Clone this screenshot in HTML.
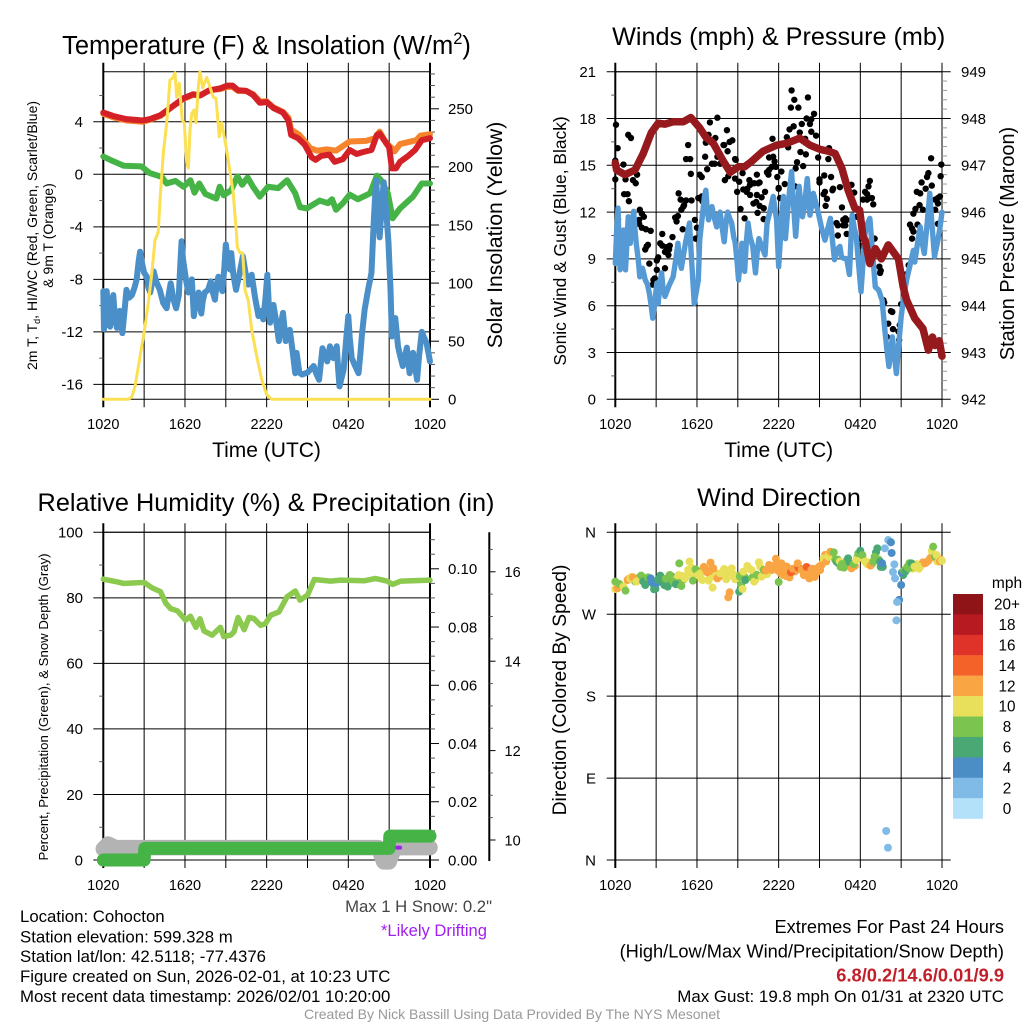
<!DOCTYPE html>
<html lang="en">
<head>
<meta charset="utf-8">
<title>Cohocton Mesonet Meteogram</title>
<style>
html,body{margin:0;padding:0;background:#fff;width:1024px;height:1024px;overflow:hidden}
svg{display:block;font-family:"Liberation Sans",Arial,sans-serif}
text{fill:#000}
</style>
</head>
<body>
<svg id="fig" xmlns="http://www.w3.org/2000/svg" width="1024" height="1024" viewBox="0 0 1024 1024">
<rect width="1024" height="1024" fill="#fff"/>
<g id="layer-grid"></g>
<g id="layer-marks"></g>
<g id="layer-labels"></g>

<text x="266.5" y="54" font-size="25.5" text-anchor="middle">Temperature (F) &amp; Insolation (W/m<tspan dy="-10" font-size="16.5">2</tspan><tspan dy="10">)</tspan></text>
<text x="778.7" y="45" font-size="25.2" text-anchor="middle">Winds (mph) &amp; Pressure (mb)</text>
<text x="266" y="511" font-size="25.3" text-anchor="middle">Relative Humidity (%) &amp; Precipitation (in)</text>
<text x="779" y="506" font-size="25.2" text-anchor="middle">Wind Direction</text>

<text x="266.5" y="457" font-size="21" text-anchor="middle">Time (UTC)</text>
<text x="778.7" y="457" font-size="21" text-anchor="middle">Time (UTC)</text>

<text transform="translate(37 235.5) rotate(-90)" font-size="14" text-anchor="middle">2m T, T<tspan dy="3" font-size="9">d</tspan><tspan dy="-3">, HI/WC (Red, Green, Scarlet/Blue)</tspan></text>
<text transform="translate(53 235.5) rotate(-90)" font-size="14" text-anchor="middle">&amp; 9m T (Orange)</text>
<text transform="translate(502 235) rotate(-90)" font-size="21.2" text-anchor="middle">Solar Insolation (Yellow)</text>
<text transform="translate(566 241) rotate(-90)" font-size="17.4" text-anchor="middle">Sonic Wind &amp; Gust (Blue, Black)</text>
<text transform="translate(1014 243.5) rotate(-90)" font-size="19.9" text-anchor="middle">Station Pressure (Maroon)</text>
<text transform="translate(48 707) rotate(-90)" font-size="13.2" text-anchor="middle">Percent, Precipitation (Green), &amp; Snow Depth (Gray)</text>
<text transform="translate(566 690) rotate(-90)" font-size="19.3" text-anchor="middle">Direction (Colored By Speed)</text>

<text x="1007" y="588" font-size="15.5" text-anchor="middle">mph</text>

<text x="492" y="912" font-size="16.7" text-anchor="end" style="fill:#444">Max 1 H Snow: 0.2"</text>
<text x="487" y="936" font-size="16.6" text-anchor="end" style="fill:#a020f0">*Likely Drifting</text>

<text x="20" y="922" font-size="16.8">Location: Cohocton</text>
<text x="20" y="942.5" font-size="16.8">Station elevation: 599.328 m</text>
<text x="20" y="962" font-size="16.8">Station lat/lon: 42.5118; -77.4376</text>
<text x="20" y="982" font-size="16.8">Figure created on Sun, 2026-02-01, at 10:23 UTC</text>
<text x="20" y="1002" font-size="16.8">Most recent data timestamp: 2026/02/01 10:20:00</text>

<text x="1004" y="933" font-size="18.2" text-anchor="end">Extremes For Past 24 Hours</text>
<text x="1004" y="957.5" font-size="18.25" text-anchor="end">(High/Low/Max Wind/Precipitation/Snow Depth)</text>
<text x="1004" y="981.5" font-size="18.3" font-weight="bold" text-anchor="end" style="fill:#c1202a">6.8/0.2/14.6/0.01/9.9</text>
<text x="1004" y="1002" font-size="16.9" text-anchor="end">Max Gust: 19.8 mph On 01/31 at 2320 UTC</text>

<text x="512" y="1019" font-size="14" text-anchor="middle" style="fill:#999">Created By Nick Bassill Using Data Provided By The NYS Mesonet</text>
</svg>

<script>
// ---------- data ----------
const timeTickHours = [0,3,6,9,12,15,18,21,24];
const timeTickLabels = ["1020","","1620","","2220","","0420","","1020"];

const tempTicks = [4,0,-4,-8,-12,-16];
const tempMinorTicks = [6,2,-2,-6,-10,-14];
const solarTicks = [0,50,100,150,200,250];
const solarMinorTicks = [10,20,30,40,60,70,80,90,110,120,130,140,160,170,180,190,210,220,230,240,260,270,280];
const windTicks = [0,3,6,9,12,15,18,21];
const windMinorTicks = [1.5,4.5,7.5,10.5,13.5,16.5,19.5];
const pressureTicks = [942,943,944,945,946,947,948,949];
const pressureMinorTicks = [942.2,942.4,942.6,942.8,943.2,943.4,943.6,943.8,944.2,944.4,944.6,944.8,945.2,945.4,945.6,945.8,946.2,946.4,946.6,946.8,947.2,947.4,947.6,947.8,948.2,948.4,948.6,948.8];
const humidityTicks = [0,20,40,60,80,100];
const humidityMinorTicks = [10,30,50,70,90];
const precipTicks = ["0.00","0.02","0.04","0.06","0.08","0.10"];
const precipMinorTicks = [0.005,0.01,0.015,0.025,0.03,0.035,0.045,0.05,0.055,0.065,0.07,0.075,0.085,0.09,0.095,0.105,0.11];
const snowTicks = [10,12,14,16];
const snowMinorTicks = [10.5,11,11.5,12.5,13,13.5,14.5,15,15.5,16.5];
const directionTicks = [0,90,180,270,360];
const directionLabels = ["N","E","S","W","N"];
const speedLegendLabels = ["20+","18","16","14","12","10","8","6","4","2","0"];
const speedLegendColors = ["#8f1417","#b81a22","#df3329","#f4622a","#f9a543","#e8e05a","#7bc44f","#49a873","#4b8ec6","#7fbbe6","#b3e1f9"];

const solarHours = [0,1.84,2.09,2.33,2.70,2.99,3.31,3.56,3.80,4.04,4.17,4.41,4.66,4.90,5.07,5.27,5.39,5.58,5.80,5.95,6.13,6.25,6.37,6.50,6.66,6.81,6.98,7.10,7.30,7.60,8.08,8.28,8.52,8.70,9.07,9.55,9.80,9.84,10.04,10.24,10.41,10.65,10.90,11.27,11.64,12.0,12.37,24];
const solarValues = [0,0,2,11,37,57,83,108,137,144,172,212,238,275,276,281,260,272,240,238,203,199,232,246,249,238,269,282,268,277,260,259,226,238,214,177,140,131,126,126,94,85,60,37,17,4,0,0];

const tempHours = [0,.73,1.7,2.9,3.4,4.2,5.0,5.9,6.6,7.1,7.8,8.6,9.1,9.5,9.9,10.5,11.0,11.5,12.0,12.5,13.2,13.6,13.8,14.3,14.8,15.3,15.6,16.0,16.6,17.0,17.6,18.1,18.6,19.1,19.7,20.1,20.3,20.7,21.0,21.2,21.5,21.8,22.4,22.9,23.4,24];
const tempValues = [4.7,4.44,4.2,4.1,4.2,4.5,5.1,5.8,6.1,6.0,6.4,6.55,6.75,6.75,6.4,6.35,6.05,5.45,5.5,5.05,4.7,4.1,3.0,2.75,2.25,1.3,1.1,1.4,1.5,.95,1.15,1.85,1.55,1.7,1.85,3.0,3.1,2.5,2.05,.45,.45,.95,1.4,1.85,2.6,2.75];

const temp9mHours = [0,.73,1.7,2.9,3.4,4.2,5.0,5.9,6.6,7.1,7.8,8.6,9.1,9.5,9.9,10.5,11.0,11.5,12.0,12.5,13.2,13.6,13.8,14.4,15.2,15.7,16.4,17.1,18.1,19.3,19.95,20.3,20.8,21.2,21.4,21.8,23.0,23.3,24];
const temp9mValues = [4.6,4.34,4.1,4.0,4.15,4.45,5.1,5.75,6.05,6.0,6.4,6.5,6.65,6.65,6.35,6.35,6.1,5.55,5.55,5.1,4.75,4.3,3.4,3.0,2.0,1.8,1.9,1.8,2.5,2.55,2.75,3.25,2.35,2.0,1.75,2.3,2.6,2.95,3.05];

const dewHours = [0,.5,1.5,2.8,3.4,4.3,4.65,5.3,5.9,6.4,6.7,7.05,7.5,8.3,8.55,8.85,9.4,9.85,10.2,10.6,11.0,11.5,12.1,12.85,13.5,14.1,14.45,14.95,15.9,16.5,16.8,17.1,17.6,18.1,18.7,19.6,20.1,20.4,20.9,21.25,21.8,22.75,23.4,24];
const dewValues = [1.35,1.1,.65,.6,.1,-.2,-.7,-.5,-.95,-.45,-1.4,-.7,-1.5,-1.85,-.95,-1.6,-1.2,-.15,-.8,-.25,-.95,-1.7,-.95,-1.05,-.45,-1.45,-2.5,-2.6,-2.0,-2.2,-1.9,-2.7,-2.2,-1.55,-1.9,-1.45,-.1,-.45,-1.45,-3.35,-2.6,-1.7,-.7,-.7];

const chillHours = [0,.05,.12,.18,.25,.35,.42,.5,.6,.73,.85,1,1.1,1.2,1.3,1.4,1.55,1.7,1.9,2.1,2.3,2.45,2.6,2.7,2.85,3,3.2,3.3,3.45,3.6,3.7,3.9,4.15,4.4,4.65,4.8,4.95,5.15,5.35,5.55,5.65,5.75,5.85,6,6.1,6.25,6.4,6.5,6.58,6.65,6.8,7,7.1,7.2,7.3,7.45,7.7,7.9,8.05,8.2,8.3,8.45,8.6,8.75,8.9,9,9.15,9.3,9.4,9.55,9.75,10,10.25,10.45,10.65,10.9,11.15,11.4,11.6,11.75,11.9,12.05,12.15,12.25,12.5,12.7,12.9,13.05,13.2,13.3,13.4,13.7,13.9,14.1,14.2,14.4,14.6,15,15.45,15.65,15.85,16.1,16.3,16.45,16.65,16.9,17.15,17.25,17.35,17.65,17.85,18,18.1,18.25,18.5,18.75,18.9,19,19.2,19.45,19.7,19.85,19.95,20.05,20.15,20.3,20.45,20.6,20.8,20.95,21.1,21.2,21.45,21.65,21.8,22,22.3,22.5,22.75,23.05,23.2,23.4,23.55,23.75,24];
const chillValues = [-8.9,-11.8,-10,-11.5,-8.9,-10.8,-9.6,-11.6,-10.2,-9.2,-10.8,-11.7,-10.9,-10.4,-11.2,-12.1,-10.5,-8.8,-9.4,-9.2,-8.6,-8,-6.6,-5.9,-6.8,-7.5,-7.8,-8.6,-9,-8.2,-7.4,-8.2,-8.8,-9.8,-10.2,-9.2,-8.3,-9.5,-10.2,-9.2,-7,-5.1,-6.4,-7.5,-8.2,-9,-8.6,-8,-9.4,-10.8,-9.8,-9,-9.9,-10.6,-9.7,-9,-8.8,-8.15,-9,-9.55,-8.6,-7.8,-8.6,-8.9,-7,-5.35,-6.5,-7.25,-6,-7.6,-8.8,-7.6,-6.25,-7.5,-8.4,-7.65,-9.4,-10.8,-10.4,-11.05,-9.6,-7.65,-9.8,-11.3,-9.95,-11.2,-12.7,-11.4,-10.55,-11.6,-12.7,-11.85,-13.4,-15.15,-13.6,-15.1,-15.25,-15.1,-14.6,-15.2,-15.65,-13.25,-13.8,-14.25,-13.1,-14,-13.1,-14.8,-16.15,-14.9,-12.5,-10.8,-12.4,-14,-14.6,-15.15,-13.5,-12.2,-10.3,-8.8,-7.5,-4,-2,-.45,-2.5,-4.8,-2.5,-.6,-3,-5.2,-8.8,-12.35,-10.95,-13.1,-13.8,-14.6,-13.2,-15.15,-13.6,-15.65,-13.8,-12,-12.4,-12.85,-14.25];

const windHours = [0,.1,.2,.28,.35,.45,.6,.68,.75,.85,.95,1.02,1.1,1.22,1.35,1.45,1.55,1.68,1.8,2,2.2,2.35,2.5,2.62,2.75,2.9,3.05,3.15,3.28,3.4,3.52,3.65,3.95,4.25,4.45,4.6,4.72,4.85,5.15,5.45,5.6,5.8,5.95,6.1,6.2,6.4,6.55,6.65,6.75,6.85,7,7.1,7.28,7.45,7.58,7.7,7.85,8,8.12,8.25,8.4,8.55,8.7,8.8,8.95,9.05,9.18,9.3,9.4,9.5,9.62,9.75,9.9,10.1,10.2,10.3,10.42,10.55,10.75,11,11.08,11.15,11.4,11.6,11.85,12,12.18,12.35,12.5,12.7,12.95,13.1,13.25,13.38,13.5,13.62,13.75,13.9,14.1,14.2,14.3,14.42,14.55,14.7,14.9,15.15,15.4,15.6,15.8,15.95,16.1,16.3,16.5,16.62,16.75,17,17.2,17.3,17.4,17.55,17.7,17.88,18.05,18.2,18.35,18.5,18.7,18.9,19.1,19.35,19.6,19.7,19.8,19.95,20.1,20.22,20.35,20.5,20.65,20.82,21,21.2,21.4,21.65,21.9,22,22.2,22.4,22.55,22.7,22.9,23.1,23.28,23.45,23.7,23.85,24];
const windValues = [8.7,10.8,12.25,10,8.3,10,10.85,9.4,8.3,10,11.7,10.8,10,11.2,12.05,10.8,9.9,9,7.85,8.4,7.65,7.4,6.8,6.1,5.2,6.2,7.45,6.15,7.4,8.1,7,6.6,7.3,7.85,9,10,9,8.4,10,11.3,9,6.15,6.9,7.65,10.2,11.8,13,13.4,12.2,11.5,12.2,12.35,11.6,11.05,11.8,12,11,10.1,11.2,12,11.6,11.3,10.4,10.1,8.8,7.65,8.8,10,9,8.2,10,11.3,10.4,9.8,8.9,8.1,9.4,10.3,9.8,9.25,10.4,11.3,12.2,13,11.5,8.5,11,13,10.3,12.5,14.6,12.4,10.45,12,13.65,12.6,11.7,12.4,14.15,13,11.8,12.4,13.2,12.7,12,11,10.2,10.9,11.6,10.2,8.95,9.6,9.8,9.1,9.05,9,8,10,11.8,11,10.45,8.6,6.9,8.8,10.65,11.2,11.6,9.4,7.2,7,6.35,5.4,4.45,3.2,2.1,3,4,2.8,1.65,3.5,5.3,6.6,7.65,8.6,9.55,8.8,10,11.05,10,9.35,11.2,13.2,11,9.15,10.2,11,12];

const gustHours = [0,.05,.17,0,.6,.75,.95,1.15,.65,.9,1,1.3,1.6,1.5,1.8,1.95,2.1,1.75,1.75,1.95,2.25,2.6,.2,2.4,2.3,2.2,3.45,3.3,3.45,3.75,4.2,4,3.95,3.15,3.65,3.9,2.5,3.05,3.05,3.65,2.9,2.8,2.75,4.95,5.85,6,5.9,4.4,4.6,4.5,4.85,5,4.65,4.8,5.2,5.05,5.6,6.1,6.35,6.4,5.35,5.5,5.2,5.55,6.2,6.35,6.6,6.75,7.1,7.3,7.7,7.5,8,8.4,8.85,8.05,8.3,8.8,9.1,8.95,9.2,9.5,9.35,10.4,9.85,9.9,10.6,11.15,11.3,11.6,11.8,12,9.4,9.7,10.2,10.5,9.65,9.9,10.4,11,10.75,10.35,10.15,10.6,10.9,10.45,10.9,7.5,6.95,6.65,6.85,7.35,8.2,8.6,7.95,8.25,8.8,11.55,12.7,12.6,12.8,12.95,13.15,12.9,13.45,14.15,14.05,14.6,14.4,14.3,13.7,13.1,13.55,14.4,14.75,13.95,13.6,14,13.35,13.8,13.25,11.3,11.7,11.5,11.15,11.25,12.2,11.9,12.45,12,13.2,12.1,15.7,14.9,15.65,15,15.35,15.85,15,16.5,16,15.95,15.4,15.3,15.55,15.45,16.65,17.35,17.55,18.7,18.6,18.35,18.5,18.2,18.5,18.85,18.95,17.75,16.9,16.75,17,16.25,16.35,16.75,16.9,17,16.35,18,19.05,18,19.4,19.5,19.45,21.55,21.35,21,20.25,20.35,19.75,19.7,20.05,20.4,20.8,20.9,19.95,20,20.6,20.85,23.2,23,22.9,22.5,23.25,22.8,22.15,22.4,23.95,23.9,23.85,23.7,23.5,23.7,22.35,22.05,22.6,23.5,21.9,23.7,21.65,21.8,21.9,22.2,21.8];
const gustSpeeds = [15.3,17.6,16.1,14.1,15.05,14.1,16.95,16.75,13.15,13.15,12.7,14.05,14.4,13.85,12.15,11.9,11.7,11.5,11.25,11,10.9,10.8,11.55,9.9,9.8,9.6,10.6,10,9.85,9.75,10.4,9.85,9.6,9.1,9.45,9.25,8.7,8.9,8.3,8.4,7.75,7.65,7.35,10.9,11.5,11,10.3,11.65,11.75,11.4,12.15,12.35,13.2,12.8,12.75,12.45,12.75,12.9,13,12.7,16.3,15.4,15.4,14.45,14.4,14.25,15.55,14.75,15.1,15.1,15.1,15.55,16.3,16.5,15.35,14.05,14.3,14.15,13.95,13.3,12.2,11.6,14.5,14.4,14.05,13.75,13.9,14.55,14.7,15.55,14.9,13.5,13.45,13.5,13.85,13.85,13.3,13.1,13.1,13.3,12.95,12.65,12.55,12.4,12.25,11.95,11.55,18.05,17.75,16.45,16.95,16.75,17.25,16.6,16.3,15.9,15.4,16.7,16.15,16.8,17.3,19.8,19.2,18.7,18.7,19.35,18,18.3,17.95,17.65,17.65,17.5,17.1,17.15,16.9,16.7,15.85,15.7,15.2,14.95,14.8,15.5,15.25,14.9,14.55,14.4,14.6,14.25,13.8,13.55,13.65,12.9,16.1,15.5,15.4,14.1,14.35,14.25,13.9,13.6,13.5,13.4,13.3,13.15,12.85,12.4,12.3,13.75,13.25,14,13.65,13.3,13.15,12.8,12.8,12.9,12.5,11.7,11.6,11.5,11.5,11.3,11.15,11.15,11.15,10.6,10.5,10.3,10.3,9.85,8.5,8.25,8.1,8.6,8,6.1,5.65,5.6,6.2,6.35,4.85,4.5,4.35,4.75,4,3.35,2.95,3.8,15.45,14.5,14.25,13.9,13.7,13.5,13.3,13.2,15.05,14.3,13,12.9,12.8,12.55,12.45,12.2,12.15,12.15,11.9,11.25,11.2,10.95,10.75,11.2,10.3];

const pressureHours = [0,.1,.7,1.45,2.05,2.65,3.15,3.65,4.25,5,5.55,6.2,6.65,7.2,7.95,8.45,9.05,9.5,10,10.85,11.85,12.6,13.55,14.3,15.05,15.65,16.15,16.65,17.1,17.6,17.95,18.2,18.35,18.7,19.1,19.55,20.05,20.8,21.15,21.4,22,22.6,23,23.3,23.5,23.8,24];
const pressureValues = [947.05,946.9,946.8,946.9,947.25,947.7,947.9,947.88,947.93,947.93,948.02,947.8,947.6,947.47,947.08,946.85,946.97,946.97,947.08,947.3,947.43,947.47,947.58,947.43,947.34,947.3,947.25,946.93,946.47,946.08,946.04,945.47,945.4,944.9,945.22,945,945.3,945,944.4,944.12,943.73,943.51,943.05,943.33,943.15,943.25,942.92];

const humidityHours = [0,1,1.5,3,3.6,4.2,4.6,4.95,5.45,6.05,6.4,6.8,7.1,7.4,8,8.6,8.85,9.35,9.6,9.9,10.35,10.7,11.05,11.55,11.9,12.3,12.9,13.5,14.1,14.45,15,15.5,16.7,17.45,19.15,20,20.85,21.25,21.85,22.7,24];
const humidityValues = [85.7,84.9,84.4,84.7,83,81.9,78.3,76.7,76,73.2,74.4,71,73.6,69.9,68.6,71,68.2,68.6,69.6,74,70.3,74,73.7,71.6,72.1,74.7,75.7,80.3,82.1,79.3,80.8,85.6,85.1,85.4,85.2,85.9,85.1,84.1,85.1,85.2,85.4];

const snowHours = [0,.35,.9,20.2,20.6,21,21.4,24];
const snowValues = [9.8,9.91,9.83,9.83,9.51,9.51,9.83,9.83];
const driftHours = [21.6,21.8];
const driftValues = [9.83,9.83];

const precipHours = [0,3,3.05,21,21.05,24];
const precipValues = [0,0,0.004,0.004,0.0082,0.0082];

const directionHours = [0,0,.15,.3,.6,.75,.9,1.1,1.3,1.55,1.7,1.9,2.05,2.2,2.4,2.6,2.7,2.85,3,3.15,3.3,3.55,3.7,3.85,4,4.25,4.45,4.65,4.7,4.85,4.95,5.1,5.45,5.35,5.55,5.7,5.9,6.1,6.25,6.4,6.6,6.75,6.85,7,7.15,7.2,7.35,7.5,7.7,7.85,8,8.15,8.3,8.4,8.55,8.65,8.8,9.1,9.25,9.35,9.15,9.55,9.4,9.7,10,10.05,10.2,10.4,10.55,10.75,10.9,11.05,11.3,11.5,11.65,11.8,12,12.05,12.2,12.35,12.45,12.6,12.8,12.9,13.05,13.45,13.4,13.7,13.95,14.05,14.25,14.4,14.55,14.75,14.95,15.05,15.15,15.3,15.5,15.65,15.8,16.05,16.25,16.35,16.5,16.65,16.8,17.1,17.35,17.5,17.7,17.85,18,18.15,18.35,18.5,18.75,18.95,19.05,19.25,19.35,19.55,19.45,19.6,19.8,19.9,20.03,20.05,20.25,20.3,20.5,20.4,20.55,21,20.85,20.7,20.65,21.05,21.2,21.3,21.45,21.55,21.75,21.9,22,22.2,22.4,22.75,23,23.25,23.35,23.5,23.6,23.75,23.85,24];
const directionDegrees = [305.8,297.7,298.5,303.2,300.3,295.9,307.6,309,310.5,305.8,307,312.4,306,302.1,310.5,309.4,305,297.4,304,308,312.4,305.8,309,300.3,313.1,305.8,303,313.1,325.9,301,312,309.4,327.8,318.6,316,306.9,319.3,313.1,315,307.6,319.7,316,306.9,326.7,299.2,320.4,312,309.4,314.9,315,319.7,308.4,288.6,294.1,320.4,314,308.4,294.8,302,297.7,311.3,307.6,316.8,323,318.6,310,305.8,313.1,327,311.3,318.6,318,324.1,318.6,320,331,305.4,320.4,325.9,313.1,318,322.3,310.5,316,320,321.2,325.9,318.6,315,321.9,309.4,318.6,312,314.9,322,318.6,324.1,331.4,328,333.2,338.7,338,327.8,330,327.8,325,321.2,331.4,320.4,325,329.6,336.9,339.8,335,327.8,325,323.4,327.8,333.2,342.4,330,324.8,327.8,326,342.4,31.9,13.5,351.5,349,337.3,324.8,316.4,309.4,302.1,285.7,283.5,263.3,315.7,318,316.8,322,320.4,325.9,322,322.3,323,322.3,325.9,328.8,339.5,344.2,333.2,335,327.8,328,328.8];
const directionSpeeds = [9,11,13,9,11,9,13,11,13,11,11,9,7,7,9,5,5,7,5,7,7,7,9,7,9,9,7,11,9,9,11,11,11,11,11,9,9,11,11,11,13,13,11,13,11,13,11,13,11,11,11,11,13,13,11,11,11,7,9,11,9,7,11,11,11,9,11,9,11,11,9,13,13,13,13,13,9,13,13,13,13,13,13,15,13,15,13,13,13,15,13,13,13,13,13,13,13,11,13,11,13,9,7,9,11,9,9,7,13,9,11,9,7,9,11,11,13,9,9,7,9,7,7,5,3,3,3,3,5,5,3,3,3,5,5,3,3,5,9,7,9,9,7,9,11,11,11,13,13,11,9,9,11,11,13,11,13];

const directionHoursExtra = [.2,.45,1,1.2,1.45,1.8,2,2.3,2.5,2.8,2.95,3.1,3.25,3.4,3.6,3.75,3.95,4.1,4.35,4.55,4.75,5,5.2,5.6,5.8,6,6.3,6.5,6.95,7.1,7.25,7.6,7.95,8.25,8.45,8.95,9,9.5,9.85,10.15,10.3,10.65,10.85,11.15,11.4,11.75,11.95,12.15,12.3,12.55,12.7,13,13.2,13.6,13.85,14.15,14.3,14.5,14.65,14.85,15.25,15.4,15.7,15.95,16.15,16.4,16.55,16.95,17.2,17.6,17.8,17.95,18.25,18.6,18.85,19.15,19.4,19.5,19.65,21.15,21.4,21.6,21.85,22.1,22.3,22.6,22.85,23.15,23.45,23.65,23.9];
const directionDegreesExtra = [302,301,309,311,306,311,308,306,309,303,298,305,310,308,302,306,310,312,304,310,305,308,312,321,312,318,309,322,310,320,316,311,317,311,316,309,312,311,320,315,308,322,313,314,321,324,318,315,321,312,316,318,317,320,313,317,315,320,311,317,327,335,336,334,330,326,322,328,326,323,333,337,330,327,325,338,328,322,322,313,320,326,320,325,320,327,327,332,335,328,330];
const directionSpeedsExtra = [11,9,13,11,9,9,7,5,7,7,7,5,7,9,7,7,9,7,9,11,9,9,11,11,11,9,11,13,11,13,13,13,13,11,11,9,9,9,11,11,11,11,11,11,13,13,13,13,13,13,13,13,13,13,13,13,13,13,13,13,11,13,11,9,9,7,9,9,7,13,9,7,11,11,9,7,9,7,7,7,7,9,11,11,11,13,13,13,9,11,13];

// ---------- axis geometry ----------
const NS = "http://www.w3.org/2000/svg";
const gridLayer = document.getElementById("layer-grid");
const markLayer = document.getElementById("layer-marks");
const labelLayer = document.getElementById("layer-labels");
const leftX0 = 103.3, leftX1 = 430, rightX0 = 615.3, rightX1 = 942;
const upperTop = 71.7, upperBottom = 399.3, lowerTop = 532.3, lowerBottom = 860;

function xLeft(h){ return leftX0 + h * (leftX1 - leftX0) / 24; }
function xRight(h){ return rightX0 + h * (rightX1 - rightX0) / 24; }
function yTemp(v){ return 174.3 - v * 13.13; }
function ySolar(v){ return upperBottom - v * 1.162; }
function yWind(v){ return upperBottom - v * (upperBottom - upperTop) / 21; }
function yPressure(v){ return upperBottom - (v - 942) * (upperBottom - upperTop) / 7; }
function yHumidity(v){ return lowerBottom - v * (lowerBottom - lowerTop) / 100; }
function yPrecip(v){ return lowerBottom - v * 2912; }
function ySnow(v){ return 840 - (v - 10) * 44.7; }
function yDirection(v){ return lowerBottom - v * (lowerBottom - lowerTop) / 360; }

function line(x1,y1,x2,y2,w,color){
  const el = document.createElementNS(NS,"line");
  el.setAttribute("x1",x1); el.setAttribute("y1",y1);
  el.setAttribute("x2",x2); el.setAttribute("y2",y2);
  el.setAttribute("stroke",color||"#000");
  el.setAttribute("stroke-width",w||1);
  
  
  gridLayer.appendChild(el);
  return el;
}
function label(x,y,str,anchor,size){
  const el = document.createElementNS(NS,"text");
  el.setAttribute("x",x); el.setAttribute("y",y);
  el.setAttribute("text-anchor",anchor);
  el.setAttribute("font-size",size||15);
  el.textContent = str;
  
  
  labelLayer.appendChild(el);
  return el;
}
function series(xs,ys,xf,yf,color,width,name){
  const el = document.createElementNS(NS,"path");
  let d = "";
  for(let i=0;i<xs.length;i++){
    d += (i?"L":"M") + xf(xs[i]).toFixed(2) + " " + yf(ys[i]).toFixed(2);
  }
  el.setAttribute("d",d);
  el.setAttribute("fill","none");
  el.setAttribute("stroke",color);
  el.setAttribute("stroke-width",width);
  el.setAttribute("stroke-linejoin","round");
  el.setAttribute("stroke-linecap","round");
  
  
  markLayer.appendChild(el);
  return el;
}

// frame: vertical time grid, top and bottom edges, x tick labels
function frame(xf,x0,x1,top,bottom,labelY,thickRight){
  timeTickHours.forEach(function(h,i){
    const x = xf(h);
    const isLeft = i === 0;
    const isRight = i === timeTickHours.length - 1;
    line(x,top-9,x,bottom+8, isLeft || (isRight && thickRight) ? 2 : 1);
    if(timeTickLabels[i]) label(x,labelY,timeTickLabels[i],"middle",14.5);
  });
  line(x0,top,x1,top,1);
  line(x0,bottom,x1,bottom,1);
}
function hGrid(yf,values,x0,x1){
  values.forEach(function(v){ line(x0,yf(v),x1,yf(v),1); });
}
function leftLabels(yf,values,x,strs){
  values.forEach(function(v,i){ label(x,yf(v)+5.3,strs ? strs[i] : String(v),"end",15); });
}
function minor(yf,values,x,len,color){
  values.forEach(function(v){ line(x,yf(v),x+len,yf(v),1,color||"#555"); });
}

// ---------- temperature & insolation ----------
frame(xLeft,leftX0,leftX1,upperTop,upperBottom,429,true);
hGrid(yTemp,tempTicks,93.3,leftX1);
leftLabels(yTemp,tempTicks,83);
minor(yTemp,tempMinorTicks,leftX0-4,4);
solarTicks.forEach(function(v){
  line(leftX1,ySolar(v),leftX1+9,ySolar(v),1);
  label(448,ySolar(v)+5.3,String(v),"start",15);
});
minor(ySolar,solarMinorTicks,leftX1,5);

series(temp9mHours,temp9mValues,xLeft,yTemp,"#f6842c",6,"temperature-9m-orange-line");
series(tempHours,tempValues,xLeft,yTemp,"#d42027",6,"temperature-2m-red-line");
series(dewHours,dewValues,xLeft,yTemp,"#46b347",6,"dewpoint-green-line");
series(chillHours,chillValues,xLeft,yTemp,"#4a8fc7",6,"wind-chill-blue-line");
series(solarHours,solarValues,xLeft,ySolar,"#fbe053",3,"solar-insolation-yellow-line");

// ---------- winds & pressure ----------
frame(xRight,rightX0,rightX1,upperTop,upperBottom,429,false);
hGrid(yWind,windTicks,606.7,950.7);
leftLabels(yWind,windTicks,596);
minor(yWind,windMinorTicks,rightX0-4,4);
pressureTicks.forEach(function(v){
  label(961,yPressure(v)+5.3,String(v),"start",15);
});
minor(yPressure,pressureMinorTicks,rightX1,5,"#999");

gustHours.forEach(function(h,i){
  const c = document.createElementNS(NS,"circle");
  c.setAttribute("cx",xRight(h).toFixed(2));
  c.setAttribute("cy",yWind(gustSpeeds[i]).toFixed(2));
  c.setAttribute("r",3.2);
  c.setAttribute("fill","#000");
  
  
  markLayer.appendChild(c);
});
series(windHours,windValues,xRight,yWind,"#559ad4",5.4,"sonic-wind-blue-line");
series(pressureHours,pressureValues,xRight,yPressure,"#961a1d",7.5,"station-pressure-maroon-line");

// ---------- humidity, precipitation & snow ----------
frame(xLeft,leftX0,leftX1,lowerTop,lowerBottom,890,true);
hGrid(yHumidity,humidityTicks,93.3,leftX1);
leftLabels(yHumidity,humidityTicks,83);
minor(yHumidity,humidityMinorTicks,leftX0-4,4);
precipTicks.forEach(function(s){
  const v = parseFloat(s);
  line(leftX1,yPrecip(v),leftX1+9,yPrecip(v),1);
  label(448,yPrecip(v)+5.3,s,"start",15);
});
minor(yPrecip,precipMinorTicks,leftX1,5,"#555");
line(489.3,lowerTop,489.3,lowerBottom+1,2);
snowTicks.forEach(function(v){
  line(489.3,ySnow(v),495.5,ySnow(v),1);
  label(504.5,ySnow(v)+5.3,String(v),"start",14.5);
});
minor(ySnow,snowMinorTicks,489.3,3.5,"#555");

series(snowHours,snowValues,xLeft,ySnow,"#b3b3b3",15.5,"snow-depth-gray-line");
series(precipHours,precipValues,xLeft,yPrecip,"#46b347",13,"precipitation-green-line");
series(driftHours,driftValues,xLeft,ySnow,"#a020f0",4,"likely-drifting-marker");
series(humidityHours,humidityValues,xLeft,yHumidity,"#8cc94f",5.5,"relative-humidity-green-line");

// ---------- wind direction ----------
frame(xRight,rightX0,rightX1,lowerTop,lowerBottom,890,false);
hGrid(yDirection,directionTicks,606.7,950.7);
leftLabels(yDirection,directionTicks,596,directionLabels);

function speedColor(s){
  const idx = Math.min(Math.floor(s/2),10);
  return speedLegendColors[10-idx];
}
function directionDots(hours,degrees,speeds){
  hours.forEach(function(h,i){
    const c = document.createElementNS(NS,"circle");
    c.setAttribute("cx",xRight(h).toFixed(2));
    c.setAttribute("cy",yDirection(degrees[i]).toFixed(2));
    c.setAttribute("r",4);
    c.setAttribute("fill",speedColor(speeds[i]));
    
    
    markLayer.appendChild(c);
  });
}
directionDots(directionHoursExtra,directionDegreesExtra,directionSpeedsExtra);
directionDots(directionHours,directionDegrees,directionSpeeds);

// ---------- speed legend ----------
speedLegendLabels.forEach(function(s,i){
  const r = document.createElementNS(NS,"rect");
  r.setAttribute("x",953);
  r.setAttribute("y",594+i*20.42);
  r.setAttribute("width",30);
  r.setAttribute("height",20.6);
  r.setAttribute("fill",speedLegendColors[i]);
  
  
  markLayer.appendChild(r);
  label(1007,594+i*20.42+15.6,s,"middle",15.3);
});
</script>
</body>
</html>
